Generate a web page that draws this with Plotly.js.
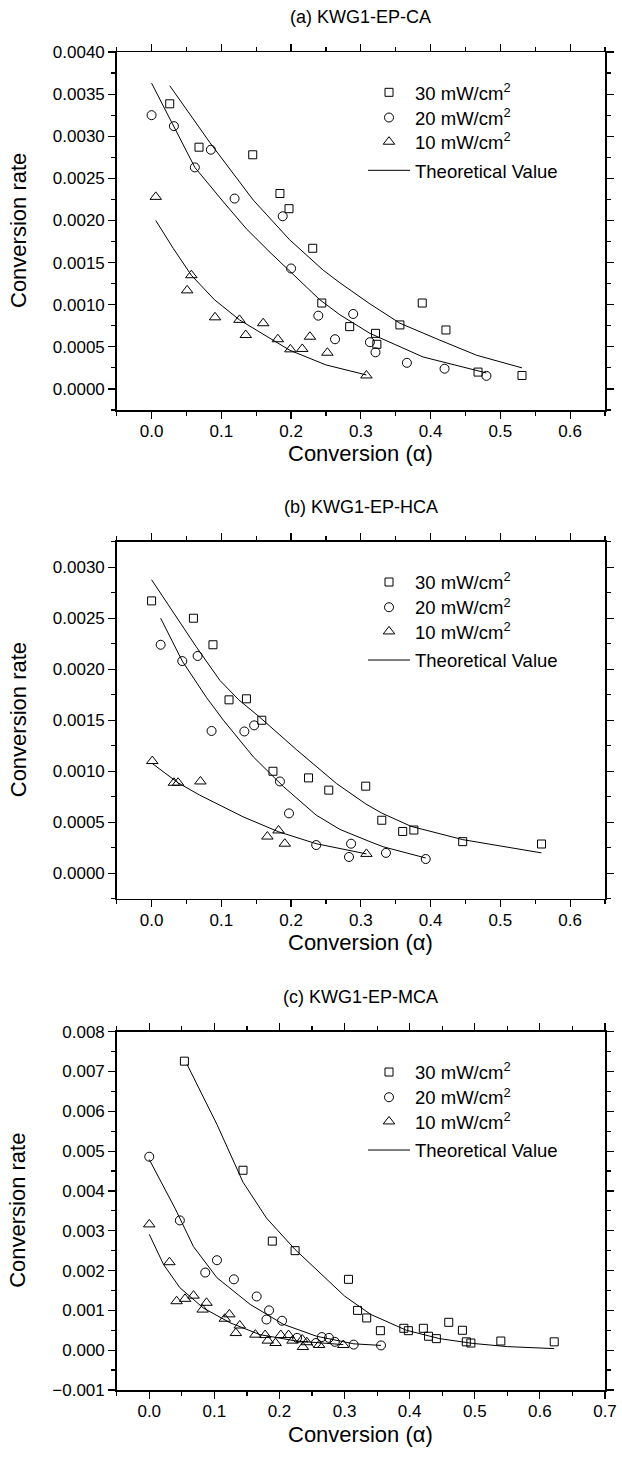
<!DOCTYPE html>
<html>
<head>
<meta charset="utf-8">
<script src="https://cdn.plot.ly/plotly-3.0.1.min.js"></script>
<style>html,body{margin:0;padding:0;background:#fff;}#chart{width:622px;height:1459px;}</style>
</head>
<body>
<div id="chart"></div>
<script>
// ---------- Data ----------
const seriesNames = ['30 mW/cm<sup>2</sup>', '20 mW/cm<sup>2</sup>', '10 mW/cm<sup>2</sup>', 'Theoretical Value'];
const panelTitles = ['(a) KWG1-EP-CA', '(b) KWG1-EP-HCA', '(c) KWG1-EP-MCA'];
const xTitle = 'Conversion (\u03b1)';
const yTitle = 'Conversion rate';

// (a) KWG1-EP-CA
const a30x = [0.026,0.068,0.145,0.184,0.197,0.231,0.244,0.284,0.321,0.323,0.356,0.388,0.422,0.468,0.531];
const a30y = [0.003385,0.00287,0.00278,0.00232,0.00214,0.00167,0.00102,0.00074,0.00066,0.00053,0.00076,0.00102,0.00070,0.00020,0.00016];
const a20x = [0.0,0.032,0.062,0.085,0.119,0.188,0.2,0.239,0.263,0.289,0.313,0.321,0.366,0.42,0.48];
const a20y = [0.00325,0.00312,0.00263,0.00284,0.00226,0.00205,0.00143,0.00087,0.00059,0.00089,0.000555,0.000435,0.00031,0.00024,0.000155];
const a10x = [0.006,0.051,0.057,0.091,0.126,0.135,0.16,0.181,0.199,0.216,0.227,0.252,0.308];
const a10y = [0.00228,0.00117,0.00135,0.00085,0.00082,0.00064,0.00078,0.00059,0.00047,0.000475,0.00062,0.00043,0.00016];
const aFit30x = [0.026,0.084,0.146,0.198,0.246,0.27,0.313,0.341,0.356,0.413,0.466,0.531];
const aFit30y = [0.0036,0.00292,0.00224,0.00177,0.00141,0.00126,0.00101,0.00086,0.00078,0.00058,0.00040,0.00025];
const aFit20x = [0.0,0.032,0.062,0.103,0.136,0.17,0.2,0.241,0.27,0.313,0.389,0.48];
const aFit20y = [0.00363,0.00312,0.00263,0.00222,0.0019,0.00162,0.00138,0.00106,0.00088,0.00066,0.00038,0.00019];
const aFit10x = [0.006,0.031,0.057,0.09,0.126,0.198,0.25,0.308];
const aFit10y = [0.0020,0.00167,0.00135,0.00106,0.00082,0.00046,0.000285,0.000166];

// (b) KWG1-EP-HCA
const b30x = [0.0,0.06,0.088,0.111,0.136,0.158,0.174,0.225,0.254,0.307,0.33,0.36,0.376,0.446,0.559];
const b30y = [0.00267,0.0025,0.00224,0.0017,0.00171,0.0015,0.0010,0.000935,0.000815,0.000854,0.00052,0.00041,0.000424,0.00031,0.000287];
const b20x = [0.013,0.044,0.066,0.086,0.133,0.147,0.184,0.197,0.236,0.283,0.286,0.336,0.393];
const b20y = [0.00224,0.00208,0.00213,0.001395,0.00139,0.00145,0.0009,0.000587,0.000277,0.00016,0.00029,0.0002,0.00014];
const b10x = [0.001,0.032,0.038,0.07,0.166,0.182,0.191,0.308];
const b10y = [0.0011,0.000887,0.000887,0.0009,0.00036,0.00042,0.00029,0.00019];
const bFit30x = [0.0,0.064,0.098,0.125,0.155,0.208,0.265,0.307,0.33,0.372,0.446,0.559];
const bFit30y = [0.002877,0.00222,0.00189,0.0017,0.00153,0.00121,0.00088,0.00068,0.00059,0.00046,0.00033,0.0002];
const bFit20x = [0.013,0.044,0.079,0.103,0.146,0.189,0.236,0.27,0.313,0.332,0.393];
const bFit20y = [0.0025,0.00208,0.00172,0.0015,0.00114,0.00085,0.00057,0.00043,0.00031,0.00026,0.00015];
const bFit10x = [0.001,0.038,0.069,0.131,0.182,0.236,0.308];
const bFit10y = [0.001076,0.000887,0.000766,0.000554,0.000407,0.00029,0.00019];

// (c) KWG1-EP-MCA
const c30x = [0.054,0.144,0.189,0.224,0.306,0.32,0.334,0.355,0.391,0.398,0.421,0.429,0.441,0.46,0.481,0.487,0.494,0.54,0.622];
const c30y = [0.00726,0.00452,0.00274,0.0025,0.00178,0.0010,0.00081,0.00049,0.00055,0.00049,0.00055,0.00035,0.00029,0.0007,0.0005,0.00021,0.00018,0.00023,0.00021];
const c20x = [0.0,0.047,0.086,0.104,0.13,0.165,0.18,0.184,0.204,0.227,0.256,0.265,0.276,0.285,0.314,0.356];
const c20y = [0.00486,0.00326,0.00195,0.00226,0.00178,0.00135,0.00077,0.0010,0.00074,0.00031,0.00018,0.00033,0.00031,0.00021,0.00014,0.00012];
const c10x = [0.0,0.031,0.042,0.055,0.068,0.082,0.088,0.116,0.123,0.133,0.139,0.163,0.178,0.182,0.194,0.202,0.214,0.22,0.235,0.236,0.242,0.261,0.298];
const c10y = [0.00316,0.00221,0.00123,0.00129,0.00137,0.00102,0.00119,0.00079,0.0009,0.00043,0.00062,0.00039,0.00038,0.00024,0.00018,0.00038,0.00038,0.00024,0.00027,0.00008,0.0002,0.00013,0.00013];
const cFit30x = [0.058,0.104,0.144,0.18,0.224,0.272,0.30,0.34,0.395,0.446,0.497,0.55,0.622];
const cFit30y = [0.00718,0.00567,0.00422,0.00332,0.00253,0.0018,0.00136,0.0009,0.0005,0.00029,0.00017,0.00009,0.00004];
const cFit20x = [0.0,0.02,0.04,0.068,0.104,0.155,0.206,0.257,0.314,0.356];
const cFit20y = [0.00479,0.00415,0.00355,0.0026,0.00182,0.00115,0.00065,0.00035,0.00016,0.00012];
const cFit10x = [0.0,0.022,0.047,0.083,0.124,0.17,0.226,0.298];
const cFit10y = [0.00291,0.00215,0.00157,0.00106,0.00069,0.00039,0.00023,0.00014];

const panels = [
  {pts: [[a30x,a30y],[a20x,a20y],[a10x,a10y]], fits: [[aFit30x,aFit30y],[aFit20x,aFit20y],[aFit10x,aFit10y]],
   top: 52, bottom: 410, xr: [-0.05,0.65], yr: [-0.00025,0.004], ydt: 0.0005, ymin: 0.00025, yfmt: '.4f'},
  {pts: [[b30x,b30y],[b20x,b20y],[b10x,b10y]], fits: [[bFit30x,bFit30y],[bFit20x,bFit20y],[bFit10x,bFit10y]],
   top: 541.7, bottom: 898.8, xr: [-0.05,0.65], yr: [-0.00025,0.00325], ydt: 0.0005, ymin: 0.00025, yfmt: '.4f'},
  {pts: [[c30x,c30y],[c20x,c20y],[c10x,c10y]], fits: [[cFit30x,cFit30y],[cFit20x,cFit20y],[cFit10x,cFit10y]],
   top: 1031.7, bottom: 1390, xr: [-0.05,0.70], yr: [-0.001,0.008], ydt: 0.001, ymin: 0.0005, yfmt: '.3f'}
];

// ---------- Styling ----------
const W = 622, H = 1459;
const FONT = 'Liberation Sans, Arial, Helvetica, sans-serif';
const LEFT = 116.7, RIGHT = 605;
const symbols = ['square-open','circle-open','triangle-up-open'];
const sizes = [8, 9, 10];
const legendRowOffsets = [38.8, 64, 88.2, 116.8];  // row centres below plot top (px)

const traces = [];
const layout = {
  width: W, height: H, margin: {l:0, r:0, t:0, b:0},
  paper_bgcolor: '#fff', plot_bgcolor: '#fff',
  font: {family: FONT, color: '#000', size: 17},
  showlegend: true,
  annotations: [], shapes: []
};

let legendCount = 0;
function newLegend(p, row) {
  legendCount++;
  const id = legendCount === 1 ? 'legend' : 'legend' + legendCount;
  layout[id] = {x: 363 / W, y: 1 - (p.top + legendRowOffsets[row] - 17) / H, xanchor: 'left', yanchor: 'top',
    bgcolor: 'rgba(0,0,0,0)', borderwidth: 0, font: {family: FONT, size: 18.5, color: '#000'},
    itemwidth: 42};
  return id;
}

panels.forEach((p, i) => {
  const sfx = i === 0 ? '' : String(i + 1);
  const xa = 'x' + sfx, ya = 'y' + sfx;
  p.pts.forEach((s, k) => {
    traces.push({x: s[0], y: s[1], xaxis: xa, yaxis: ya, type: 'scatter', mode: 'markers',
      name: seriesNames[k], legend: newLegend(p, k),
      marker: {symbol: symbols[k], size: sizes[k], color: '#000', line: {width: 1, color: '#000'}},
      hoverinfo: 'skip'});
  });
  const fitLegend = newLegend(p, 3);
  p.fits.forEach((s, k) => {
    traces.push({x: s[0], y: s[1], xaxis: xa, yaxis: ya, type: 'scatter', mode: 'lines',
      name: seriesNames[3], legend: fitLegend, showlegend: k === 0,
      line: {color: '#000', width: 1}, hoverinfo: 'skip'});
  });
  const yd = [1 - p.bottom / H, 1 - p.top / H];
  const xd = [LEFT / W, RIGHT / W];
  const axCommon = {showline: true, linecolor: '#000', linewidth: 1.5, mirror: 'allticks',
    ticks: 'outside', ticklen: 7, tickwidth: 1.2, tickcolor: '#000', showgrid: false, zeroline: false,
    tickfont: {family: FONT, size: 17, color: '#000'}, fixedrange: true};
  layout['xaxis' + sfx] = Object.assign({}, axCommon, {domain: xd, anchor: ya, range: p.xr,
    tick0: 0, dtick: 0.1, tickformat: '.1f', ticklabelstandoff: -2,
    minor: {dtick: 0.05, ticklen: 4, tickwidth: 1.2, tickcolor: '#000', ticks: 'outside', showgrid: false}});
  layout['yaxis' + sfx] = Object.assign({}, axCommon, {domain: yd, anchor: xa, range: p.yr,
    tick0: 0, dtick: p.ydt, tickformat: p.yfmt,
    minor: {dtick: p.ymin, ticklen: 4, tickwidth: 1.2, tickcolor: '#000', ticks: 'outside', showgrid: false}});
  // panel title
  layout.annotations.push({xref: 'paper', yref: 'paper', x: (LEFT + RIGHT) / 2 / W, y: 1 - (p.top - 35) / H,
    xanchor: 'center', yanchor: 'middle', showarrow: false, text: panelTitles[i],
    font: {family: FONT, size: 18, color: '#000'}});
  // x title
  layout.annotations.push({xref: 'paper', yref: 'paper', x: (LEFT + RIGHT) / 2 / W, y: 1 - (p.bottom + 44) / H,
    xanchor: 'center', yanchor: 'middle', showarrow: false, text: xTitle,
    font: {family: FONT, size: 22, color: '#000'}});
  // y title
  layout.annotations.push({xref: 'paper', yref: 'paper', x: 18 / W, y: 1 - (p.top + p.bottom) / 2 / H,
    xanchor: 'center', yanchor: 'middle', showarrow: false, text: yTitle, textangle: -90,
    font: {family: FONT, size: 22, color: '#000'}});
});

Plotly.newPlot('chart', traces, layout, {staticPlot: true, displayModeBar: false});
</script>
</body>
</html>
